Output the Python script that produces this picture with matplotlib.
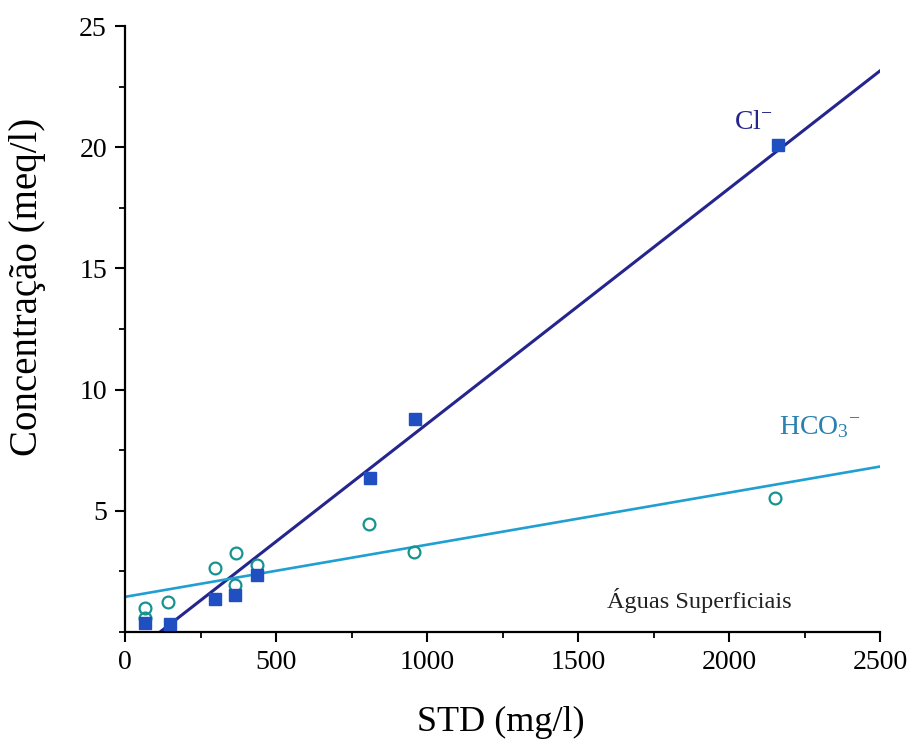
import matplotlib
matplotlib.use("Agg")
import matplotlib.pyplot as plt
import numpy as np
from matplotlib.ticker import MultipleLocator

plt.rcParams["font.family"] = ["Liberation Serif", "DejaVu Serif"]
plt.rcParams["mathtext.fontset"] = "custom"
plt.rcParams["mathtext.rm"] = "Liberation Serif"
plt.rcParams["mathtext.it"] = "Liberation Serif:italic"

# Surface water samples: total dissolved solids vs. ion concentration
std_cl = [66, 149, 298, 364, 437, 811, 960, 2162]
cl = [0.37, 0.33, 1.36, 1.53, 2.36, 6.36, 8.80, 20.08]

std_hco3 = [66, 66, 143, 298, 368, 364, 437, 808, 957, 2152]
hco3 = [1.00, 0.58, 1.24, 2.64, 3.26, 1.94, 2.77, 4.46, 3.31, 5.54]

# Linear fits (slope, intercept)
cl_fit = (0.00971, -1.125)
hco3_fit = (0.00215, 1.45)

fig = plt.figure(figsize=(9.14, 7.41), dpi=100)
ax = fig.add_axes([0.1368, 0.1471, 0.826, 0.8178])

xs = np.array([0, 2500])
ax.plot(xs, cl_fit[0] * xs + cl_fit[1], color="#25258e", lw=2.2, zorder=2)
ax.plot(xs, hco3_fit[0] * xs + hco3_fit[1], color="#1f9fd2", lw=1.9, zorder=2)

ax.plot(std_hco3, hco3, "o", ms=8.5, mfc="none", mec="#17938f", mew=1.6,
        clip_on=False, zorder=3)
ax.plot(std_cl, cl, "s", ms=8.5, color="#1f4fc0", clip_on=False, zorder=4)

ax.text(2015, 20.5, r"Cl$^{\mathrm{-}}$", color="#25258e", fontsize=20,
        ha="left", va="bottom")
ax.text(2165, 7.9, r"HCO$_{3}$$^{\mathrm{-}}$", color="#2a80b0", fontsize=20,
        ha="left", va="bottom")
ax.text(1595, 1.3, "Águas Superficiais", color="#222222", fontsize=17.5,
        ha="left", va="center")

ax.set_xlim(0, 2500)
ax.set_ylim(0, 25)
ax.xaxis.set_major_locator(MultipleLocator(500))
ax.xaxis.set_minor_locator(MultipleLocator(250))
ax.set_yticks([5, 10, 15, 20, 25])
ax.yaxis.set_minor_locator(MultipleLocator(2.5))

for side in ("top", "right"):
    ax.spines[side].set_visible(False)
for side in ("left", "bottom"):
    ax.spines[side].set_linewidth(1.6)

ax.tick_params(which="major", length=7, width=1.5, labelsize=20, pad=6)
ax.tick_params(which="minor", length=4, width=1.3)

# axis titles placed in figure pixels
fig.text(501 / 914, 1 - 722 / 741, "STD (mg/l)", fontsize=26,
         ha="center", va="center")
fig.text(28 / 914, 1 - 287 / 741, "Concentração (meq/l)", fontsize=28,
         rotation=90, ha="center", va="center")

fig.savefig("out.png", dpi=100)
